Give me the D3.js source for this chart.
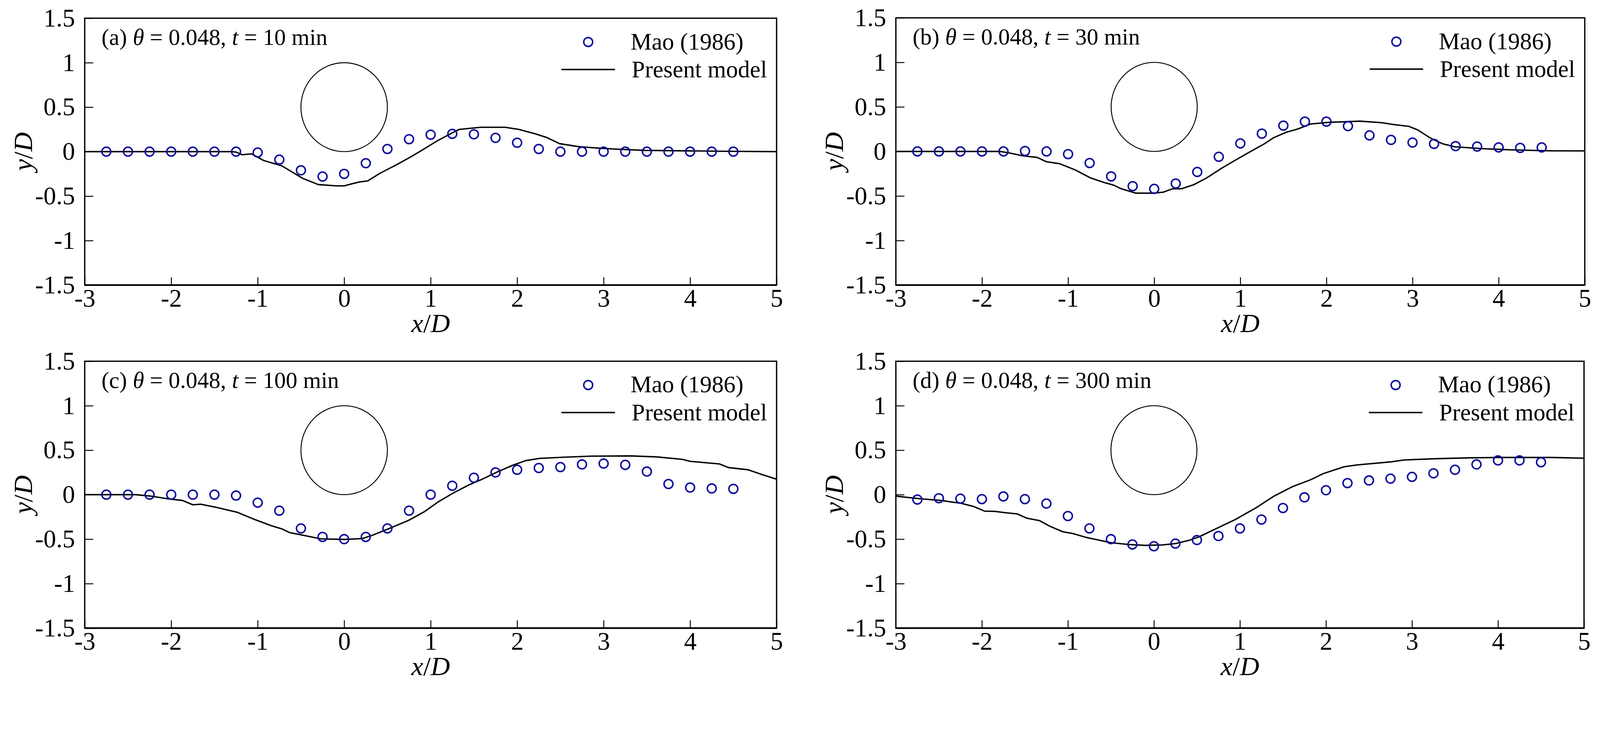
<!DOCTYPE html>
<html>
<head>
<meta charset="utf-8">
<script src="https://cdn.jsdelivr.net/npm/d3@7"></script>
<style>
  html, body { margin: 0; padding: 0; background: #fff; overflow: hidden; }
  svg { display: block; width: 100vw; height: auto; }
</style>
</head>
<body>
<svg id="chart"></svg>
<script>
// canvas size (drawing units, the svg scales to the window)
const width = 4306;
const height = 1871;

// ticks
const xTicks = [-3, -2, -1, 0, 1, 2, 3, 4, 5];
const yTicks = [-1.5, -1, -0.5, 0, 0.5, 1, 1.5];

// panel captions
const panelLetters = ["a", "b", "c", "d"];
const panelTimes = [10, 30, 100, 300];

// Mao (1986) measurements, same x stations in every panel
const maoX = [-2.75, -2.5, -2.25, -2, -1.75, -1.5, -1.25, -1, -0.75, -0.5, -0.25, 0, 0.25, 0.5, 0.75,
  1, 1.25, 1.5, 1.75, 2, 2.25, 2.5, 2.75, 3, 3.25, 3.5, 3.75, 4, 4.25, 4.5];
const maoA = [0, 0, 0, 0, 0, 0, 0, -0.01, -0.09, -0.21, -0.28, -0.25, -0.13, 0.03, 0.14,
  0.19, 0.2, 0.195, 0.155, 0.1, 0.03, 0, 0, 0, 0, 0, 0, 0, 0, 0];
const maoB = [0, 0, 0, 0, 0, 0.005, 0, -0.03, -0.13, -0.28, -0.39, -0.42, -0.36, -0.23, -0.06,
  0.09, 0.2, 0.29, 0.335, 0.335, 0.285, 0.18, 0.13, 0.1, 0.085, 0.06, 0.055, 0.045, 0.04, 0.045];
const maoC = [0, 0, 0, 0, 0, 0, -0.01, -0.09, -0.18, -0.38, -0.475, -0.5, -0.475, -0.38, -0.18,
  0, 0.1, 0.19, 0.25, 0.28, 0.3, 0.31, 0.34, 0.35, 0.335, 0.26, 0.12, 0.08, 0.07, 0.065];
const maoD = [-0.055, -0.04, -0.045, -0.05, -0.02, -0.05, -0.1, -0.24, -0.38, -0.5, -0.56, -0.58, -0.55, -0.51, -0.465,
  -0.38, -0.28, -0.15, -0.03, 0.05, 0.13, 0.16, 0.18, 0.2, 0.24, 0.28, 0.34, 0.385, 0.385, 0.365];

// present model bed profiles, [x/D, y/D]
const modelA = [[-3, 0], [-1.3, 0], [-1.25, -0.005], [-1.18, -0.035], [-1.07, -0.025], [-0.93, -0.1],
  [-0.72, -0.16], [-0.6, -0.23], [-0.48, -0.3], [-0.3, -0.37], [-0.09, -0.385], [0, -0.385],
  [0.075, -0.365], [0.18, -0.34], [0.27, -0.33], [0.42, -0.24], [0.6, -0.15], [0.75, -0.07],
  [0.885, 0.007], [1.07, 0.118], [1.26, 0.216], [1.33, 0.25], [1.58, 0.274], [1.86, 0.274],
  [2.02, 0.25], [2.21, 0.2], [2.34, 0.16], [2.49, 0.09], [2.71, 0.056], [2.9, 0.042],
  [3.15, 0.028], [3.47, 0.014], [4.42, 0.004], [5, 0]];
const modelB = [[-3, 0], [-1.79, 0], [-1.7, -0.014], [-1.52, -0.05], [-1.36, -0.067], [-1.25, -0.116],
  [-1.1, -0.137], [-0.92, -0.206], [-0.74, -0.297], [-0.59, -0.346], [-0.466, -0.38], [-0.394, -0.415],
  [-0.216, -0.468], [0, -0.468], [0.107, -0.457], [0.21, -0.42], [0.32, -0.418], [0.46, -0.373],
  [0.605, -0.3], [0.78, -0.19], [0.96, -0.088], [1.1, -0.011], [1.28, 0.086], [1.39, 0.156],
  [1.53, 0.214], [1.67, 0.253], [1.82, 0.309], [2.03, 0.327], [2.39, 0.34], [2.64, 0.323],
  [2.78, 0.302], [2.96, 0.281], [3.06, 0.242], [3.21, 0.149], [3.35, 0.086], [3.49, 0.052],
  [3.81, 0.031], [4.17, 0.017], [4.6, 0.007], [5, 0.006]];
const modelC = [[-3, 0], [-2.41, 0], [-2.23, -0.017], [-2.05, -0.045], [-1.87, -0.065], [-1.75, -0.114],
  [-1.66, -0.107], [-1.48, -0.142], [-1.24, -0.197], [-1.03, -0.281], [-0.84, -0.35], [-0.72, -0.385],
  [-0.63, -0.427], [-0.48, -0.455], [-0.27, -0.497], [0, -0.503], [0.21, -0.494], [0.33, -0.455],
  [0.51, -0.385], [0.747, -0.288], [0.93, -0.19], [1.08, -0.086], [1.26, 0.018], [1.44, 0.109],
  [1.59, 0.171], [1.77, 0.255], [1.95, 0.331], [2.1, 0.383], [2.26, 0.408], [2.56, 0.422],
  [2.86, 0.433], [3.31, 0.436], [3.61, 0.425], [3.91, 0.397], [4.0, 0.375], [4.34, 0.345],
  [4.44, 0.305], [4.67, 0.28], [4.85, 0.22], [5, 0.174]];
const modelD = [[-3, -0.015], [-2.96, -0.021], [-2.72, -0.046], [-2.48, -0.065], [-2.24, -0.097],
  [-2.09, -0.135], [-1.97, -0.185], [-1.85, -0.188], [-1.72, -0.204], [-1.59, -0.216], [-1.48, -0.264],
  [-1.33, -0.292], [-1.21, -0.355], [-1.06, -0.417], [-0.94, -0.438], [-0.79, -0.48], [-0.67, -0.505],
  [-0.5, -0.54], [-0.3, -0.56], [-0.1, -0.57], [0.1, -0.565], [0.25, -0.55], [0.404, -0.515],
  [0.525, -0.474], [0.706, -0.39], [0.947, -0.279], [1.19, -0.146], [1.4, -0.014], [1.61, 0.09],
  [1.82, 0.167], [1.97, 0.237], [2.21, 0.313], [2.36, 0.334], [2.76, 0.369], [2.91, 0.39],
  [3.27, 0.404], [3.66, 0.414], [4.02, 0.418], [4.62, 0.418], [5, 0.41]];

const maoSeries = [maoA, maoB, maoC, maoD];
const modelSeries = [modelA, modelB, modelC, modelD];

// pixel boxes of the four plots
const boxes = [
  { left: 228, right: 2090, top: 49, bottom: 767 },
  { left: 2411, right: 4265, top: 48, bottom: 767 },
  { left: 228, right: 2090, top: 972, bottom: 1690 },
  { left: 2411, right: 4263, top: 972, bottom: 1690 }
];

const serif = "'Liberation Serif', 'Times New Roman', serif";
const blue = "#0c0c9c";

const svg = d3.select("#chart")
  .attr("viewBox", [0, 0, width, height])
  .attr("preserveAspectRatio", "xMinYMin meet")
  .style("font-family", serif);

svg.append("rect").attr("width", width).attr("height", height).attr("fill", "#fff");

// draws one panel
function drawPanel(i) {
  const b = boxes[i];
  const g = svg.append("g").attr("class", "panel");

  const x = d3.scaleLinear().domain([-3, 5]).range([b.left, b.right]);
  const y = d3.scaleLinear().domain([-1.5, 1.5]).range([b.bottom, b.top]);

  // axes, ticks pointing inwards
  const xAxis = g.append("g")
    .attr("transform", `translate(0,${b.bottom})`)
    .call(d3.axisBottom(x).tickValues(xTicks).tickSize(-21).tickPadding(10)
      .tickFormat((d) => String(d)));
  const yAxis = g.append("g")
    .attr("transform", `translate(${b.left},0)`)
    .call(d3.axisLeft(y).tickValues(yTicks).tickSize(-23).tickPadding(26)
      .tickFormat((d) => String(d)));

  [xAxis, yAxis].forEach((ax) => {
    ax.select(".domain").remove();
    ax.attr("font-family", serif).attr("font-size", 68);
    ax.selectAll(".tick line").attr("stroke", "#000").attr("stroke-width", 2.5);
    ax.selectAll(".tick text").attr("fill", "#000");
  });

  // frame, bottom edge a bit heavier
  g.append("rect")
    .attr("x", b.left).attr("y", b.top)
    .attr("width", b.right - b.left).attr("height", b.bottom - b.top)
    .attr("fill", "none").attr("stroke", "#000").attr("stroke-width", 3.5);
  g.append("line")
    .attr("x1", b.left).attr("x2", b.right)
    .attr("y1", b.bottom).attr("y2", b.bottom)
    .attr("stroke", "#000").attr("stroke-width", 4.5);

  // the pipe (D = 1, centre at y/D = 0.5)
  g.append("ellipse")
    .attr("cx", x(0)).attr("cy", y(0.5))
    .attr("rx", x(0.5) - x(0)).attr("ry", y(0) - y(0.5))
    .attr("fill", "none").attr("stroke", "#000").attr("stroke-width", 2.5);

  // model line
  const line = d3.line().x((d) => x(d[0])).y((d) => y(d[1]));
  g.append("path")
    .datum(modelSeries[i])
    .attr("d", line)
    .attr("fill", "none").attr("stroke", "#000").attr("stroke-width", 3.8)
    .attr("stroke-linejoin", "round");

  // measurements
  g.append("g")
    .selectAll("circle")
    .data(maoSeries[i])
    .enter()
    .append("circle")
    .attr("cx", (d, k) => x(maoX[k]))
    .attr("cy", (d) => y(d))
    .attr("r", 12)
    .attr("fill", "none").attr("stroke", blue).attr("stroke-width", 4);

  // caption
  const title = g.append("text")
    .attr("x", b.left + 45).attr("y", b.top + 72)
    .attr("font-size", 62);
  title.append("tspan").text("(" + panelLetters[i] + ") ");
  title.append("tspan").attr("font-style", "italic").text("θ");
  title.append("tspan").text(" = 0.048, ");
  title.append("tspan").attr("font-style", "italic").text("t");
  title.append("tspan").text(" = " + panelTimes[i] + " min");

  // legend
  g.append("circle")
    .attr("cx", b.right - 507).attr("cy", b.top + 64).attr("r", 12)
    .attr("fill", "none").attr("stroke", blue).attr("stroke-width", 4);
  g.append("text")
    .attr("x", b.right - 393).attr("y", b.top + 84)
    .attr("font-size", 64).text("Mao (1986)");
  g.append("line")
    .attr("x1", b.right - 579).attr("x2", b.right - 435)
    .attr("y1", b.top + 138).attr("y2", b.top + 138)
    .attr("stroke", "#000").attr("stroke-width", 3.8);
  g.append("text")
    .attr("x", b.right - 390).attr("y", b.top + 159)
    .attr("font-size", 64).text("Present model");

  // axis titles
  const xl = g.append("text")
    .attr("x", (b.left + b.right) / 2).attr("y", b.bottom + 127)
    .attr("text-anchor", "middle").attr("font-size", 72).attr("font-style", "italic");
  xl.append("tspan").text("x");
  xl.append("tspan").attr("font-style", "normal").text("/");
  xl.append("tspan").text("D");

  const yl = g.append("text")
    .attr("transform", `translate(${b.left - 142},${(b.top + b.bottom) / 2}) rotate(-90)`)
    .attr("text-anchor", "middle").attr("font-size", 72).attr("font-style", "italic");
  yl.append("tspan").text("y");
  yl.append("tspan").attr("font-style", "normal").text("/");
  yl.append("tspan").text("D");
}

for (let i = 0; i < 4; i++) drawPanel(i);
</script>
</body>
</html>
